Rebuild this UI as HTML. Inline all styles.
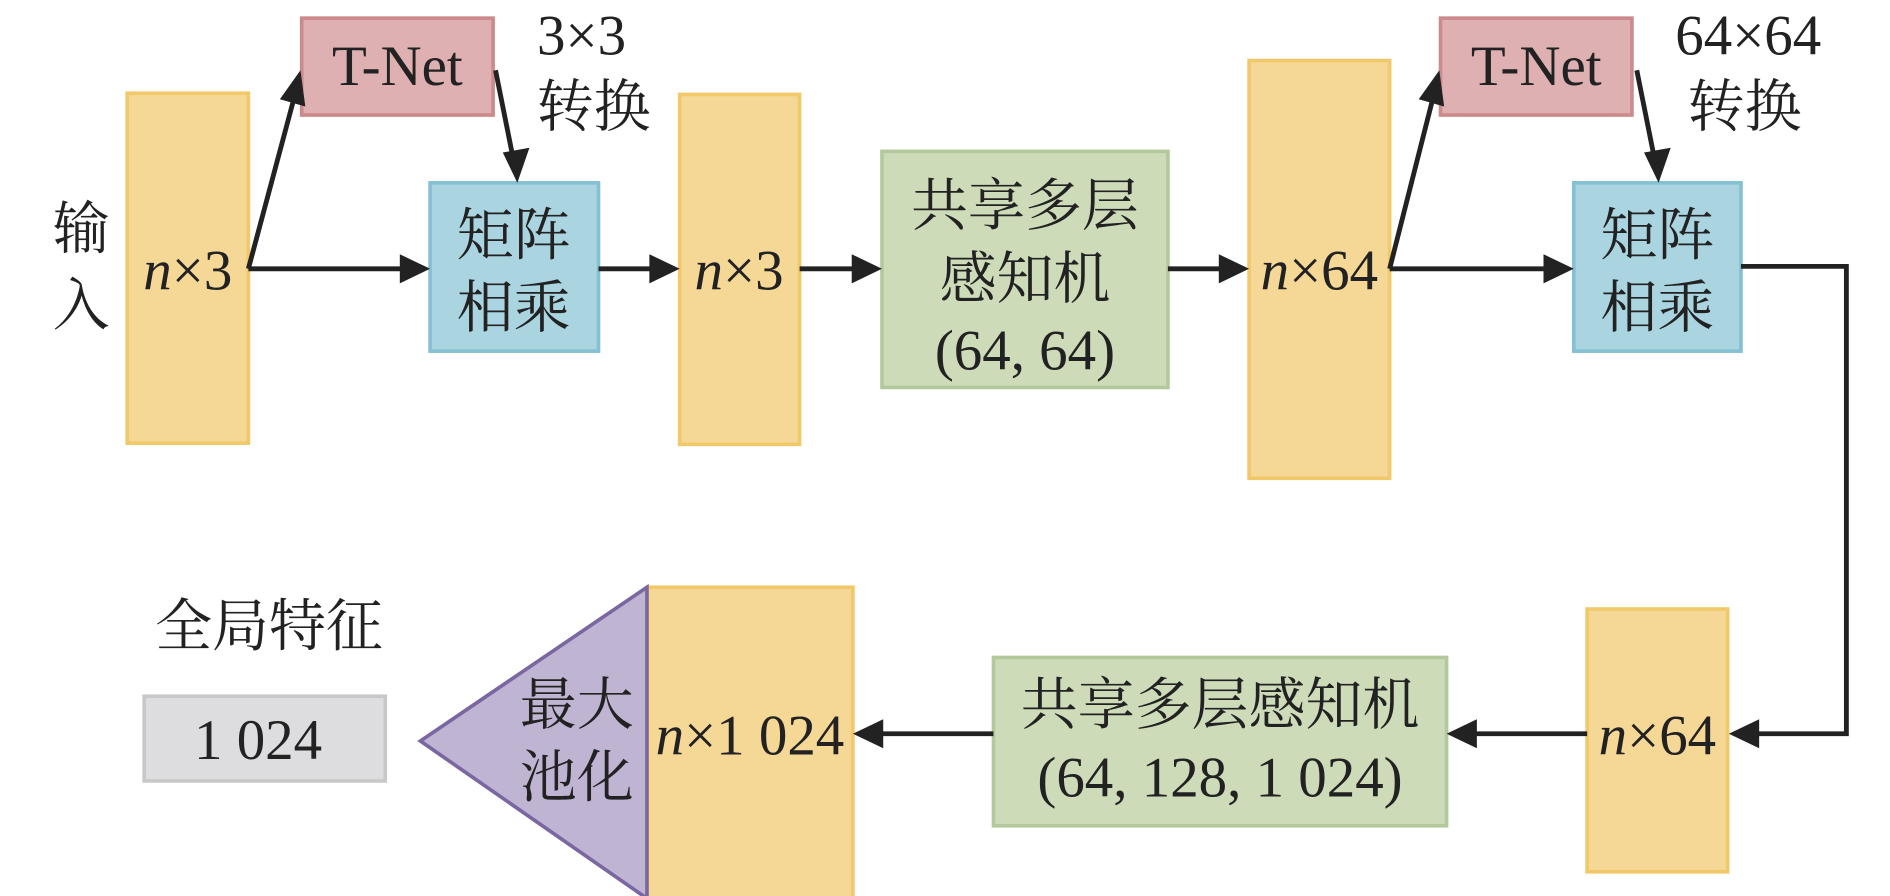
<!DOCTYPE html>
<html><head><meta charset="utf-8"><style>
html,body{margin:0;padding:0;background:#fff;}
svg{display:block;}
text{font-family:"Liberation Serif","Noto Serif CJK SC","Noto Sans CJK SC",serif;fill:#222;}
</style></head><body>
<svg width="1890" height="896" viewBox="0 0 1560 740" preserveAspectRatio="none" xmlns="http://www.w3.org/2000/svg">
<g stroke-width="3">
<rect x="105" y="77" width="100" height="289" fill="#f5d796" stroke="#f2c96a"/>
<rect x="561" y="78" width="99" height="289" fill="#f5d796" stroke="#f2c96a"/>
<rect x="1031" y="50" width="116" height="345" fill="#f5d796" stroke="#f2c96a"/>
<rect x="1310" y="503" width="116" height="217" fill="#f5d796" stroke="#f2c96a"/>
<rect x="534" y="485" width="170" height="257" fill="#f5d796" stroke="#f2c96a"/>
<rect x="249" y="15" width="158" height="80" fill="#deb0b1" stroke="#cc8a8c"/>
<rect x="1189" y="15" width="158" height="80" fill="#deb0b1" stroke="#cc8a8c"/>
<rect x="355" y="151" width="139" height="139" fill="#a9d4e0" stroke="#85c1d2"/>
<rect x="1299" y="151" width="138" height="139" fill="#a9d4e0" stroke="#85c1d2"/>
<rect x="728" y="125" width="236" height="195" fill="#cddbb9" stroke="#b3c99c"/>
<rect x="820" y="543" width="374" height="139" fill="#cddbb9" stroke="#b3c99c"/>
<polygon points="534,485 534,742 347,612" fill="#c0b4d3" stroke="#7a67a1"/>
<rect x="119" y="575" width="199" height="70" fill="#dddddf" stroke="#c8c8c8"/>
</g>
<g stroke="#222" stroke-width="4" fill="none">
<polyline points="205,222 332,222"/>
<polyline points="205,222 243,80"/>
<polyline points="409,58 423,128"/>
<polyline points="494,222 540,222"/>
<polyline points="660,222 707,222"/>
<polyline points="964,222 1010,222"/>
<polyline points="1147,222 1276,222"/>
<polyline points="1147,222 1183,80"/>
<polyline points="1351,58 1365,128"/>
<polyline points="1437,220 1524,220 1524,606 1448,606"/>
<polyline points="1310,606 1216,606"/>
<polyline points="820,606 726,606"/>
</g>
<g fill="#222">
<polygon points="355,222 330,210 330,234"/>
<polygon points="248,58 231,82 252,88"/>
<polygon points="427,151 415,126 437,122"/>
<polygon points="561,222 536,210 536,234"/>
<polygon points="728,222 703,210 703,234"/>
<polygon points="1031,222 1006,210 1006,234"/>
<polygon points="1299,222 1274,210 1274,234"/>
<polygon points="1188,58 1171,82 1192,88"/>
<polygon points="1369,151 1357,126 1379,122"/>
<polygon points="1427,606 1452,594 1452,618"/>
<polygon points="1194,606 1219,594 1219,618"/>
<polygon points="704,606 729,594 729,618"/>
</g>
<g font-size="47" text-anchor="middle">
<text x="67" y="205">输</text>
<text x="67" y="268">入</text>
<text x="155" y="239"><tspan font-style="italic">n</tspan>×3</text>
<text x="610" y="239"><tspan font-style="italic">n</tspan>×3</text>
<text x="1089" y="239"><tspan font-style="italic">n</tspan>×64</text>
<text x="1368" y="623"><tspan font-style="italic">n</tspan>×64</text>
<text x="619" y="623"><tspan font-style="italic">n</tspan>×1 024</text>
<text x="328" y="70">T-Net</text>
<text x="1268" y="70">T-Net</text>
<text x="480" y="45">3×3</text>
<text x="490" y="104">转换</text>
<text x="1443" y="45">64×64</text>
<text x="1440" y="104">转换</text>
<text x="424" y="210">矩阵</text>
<text x="424" y="270">相乘</text>
<text x="1368" y="210">矩阵</text>
<text x="1368" y="270">相乘</text>
<text x="846" y="186">共享多层</text>
<text x="846" y="246">感知机</text>
<text x="846" y="305">(64, 64)</text>
<text x="1007" y="598">共享多层感知机</text>
<text x="1007" y="658">(64, 128, 1 024)</text>
<text x="476" y="598">最大</text>
<text x="476" y="658">池化</text>
<text x="222" y="533">全局特征</text>
<text x="213" y="627">1 024</text>
</g>
</svg>
</body></html>
